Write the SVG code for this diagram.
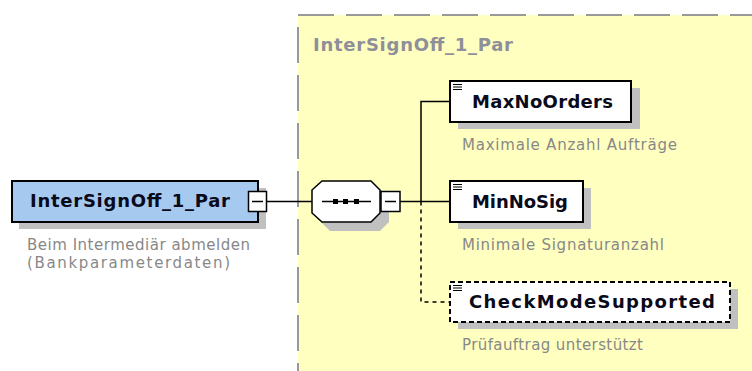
<svg xmlns="http://www.w3.org/2000/svg" width="752" height="371" viewBox="0 0 752 371">
<style>
.shadow{fill:#C0C0C0}
.box{stroke:#000;stroke-width:2}
.el{fill:#fff}
.title{font-family:"DejaVu Sans","Liberation Sans",sans-serif;font-weight:bold;font-size:18px;fill:#0a0a1a}
.desc{font-family:"DejaVu Sans","Liberation Sans",sans-serif;font-size:15px;fill:#888}
.grp{font-family:"DejaVu Sans","Liberation Sans",sans-serif;font-weight:bold;font-size:18px;fill:#8f8f9a}
.ln{stroke:#000;stroke-width:1.5;fill:none}
.dash{stroke:#000;stroke-width:1.5;fill:none;stroke-dasharray:4 4}
.icon{stroke:#000;stroke-width:1}
.tog{fill:#fff;stroke:#000;stroke-width:1.5}
</style>
<rect width="752" height="371" fill="#fff"/>
<g id="group-InterSignOff_1_Par">
<rect x="298" y="15" width="470" height="370" fill="#FFFFC0" stroke="#999" stroke-width="2" stroke-dasharray="36 12"/>
<text class="grp" x="313" y="51" textLength="200" lengthAdjust="spacing">InterSignOff_1_Par</text>
</g>
<g id="connectors">
<line class="ln" x1="267" y1="201.5" x2="312" y2="201.5"/>
<line class="ln" x1="400" y1="201.5" x2="450" y2="201.5"/>
<polyline class="ln" points="450,101.5 421,101.5 421,201.5"/>
<polyline class="dash" points="421,201.5 421,302 450,302"/>
</g>
<g id="node-main">
<rect class="shadow" x="19" y="188" width="247" height="41"/>
<rect class="box" x="12" y="181" width="246" height="41" fill="#A6C9F0"/>
<text class="title" x="30" y="207" textLength="200" lengthAdjust="spacing">InterSignOff_1_Par</text>
<rect class="tog" x="248.5" y="191.5" width="18" height="20"/>
<line class="ln" x1="252" y1="201.5" x2="263" y2="201.5"/>
<text class="desc" x="27" y="250" textLength="223" lengthAdjust="spacing">Beim Intermediär abmelden</text>
<text class="desc" x="27" y="268" textLength="203" lengthAdjust="spacing">(Bankparameterdaten)</text>
</g>
<g id="node-sequence">
<path class="shadow" d="M330,189 L380,189 L389,198 L389,222 L380,231 L330,231 L321,222 L321,198 Z"/>
<path d="M322,181 L371,181 L380,190 L380,213 L371,222 L322,222 L312,213 L312,190 Z" fill="#fff" stroke="#000" stroke-width="1.5"/>
<line class="ln" x1="322" y1="201.5" x2="371" y2="201.5"/>
<rect x="333" y="199" width="5" height="5" fill="#000"/>
<rect x="343" y="199" width="5" height="5" fill="#000"/>
<rect x="354" y="199" width="5" height="5" fill="#000"/>
<rect class="tog" x="381" y="191.5" width="19" height="20"/>
<line class="ln" x1="385" y1="201.5" x2="396" y2="201.5"/>
</g>
<g id="node-MaxNoOrders">
<rect class="shadow" x="458" y="88" width="182" height="41"/>
<rect class="box el" x="450" y="81" width="181" height="41"/>
<line class="icon" x1="453" y1="84.5" x2="462" y2="84.5"/>
<line class="icon" x1="453" y1="87" x2="462" y2="87"/>
<line class="icon" x1="453" y1="89.5" x2="462" y2="89.5"/>
<text class="title" x="472" y="108" textLength="141" lengthAdjust="spacing">MaxNoOrders</text>
<text class="desc" x="462" y="150" textLength="215" lengthAdjust="spacing">Maximale Anzahl Aufträge</text>
</g>
<g id="node-MinNoSig">
<rect class="shadow" x="458" y="188" width="133" height="41"/>
<rect class="box el" x="450" y="181" width="133" height="41"/>
<line class="icon" x1="453" y1="184.5" x2="462" y2="184.5"/>
<line class="icon" x1="453" y1="187" x2="462" y2="187"/>
<line class="icon" x1="453" y1="189.5" x2="462" y2="189.5"/>
<text class="title" x="472" y="208" textLength="96" lengthAdjust="spacing">MinNoSig</text>
<text class="desc" x="462" y="250" textLength="202" lengthAdjust="spacing">Minimale Signaturanzahl</text>
</g>
<g id="node-CheckModeSupported">
<rect class="shadow" x="458" y="289" width="280" height="40"/>
<rect class="el" x="450" y="282" width="280" height="40" stroke="#000" stroke-width="2" stroke-dasharray="5 3"/>
<line class="icon" x1="453" y1="285.5" x2="462" y2="285.5"/>
<line class="icon" x1="453" y1="288" x2="462" y2="288"/>
<line class="icon" x1="453" y1="290.5" x2="462" y2="290.5"/>
<text class="title" x="469" y="308" textLength="246" lengthAdjust="spacing">CheckModeSupported</text>
<text class="desc" x="462" y="350" textLength="181" lengthAdjust="spacing">Prüfauftrag unterstützt</text>
</g>
</svg>
